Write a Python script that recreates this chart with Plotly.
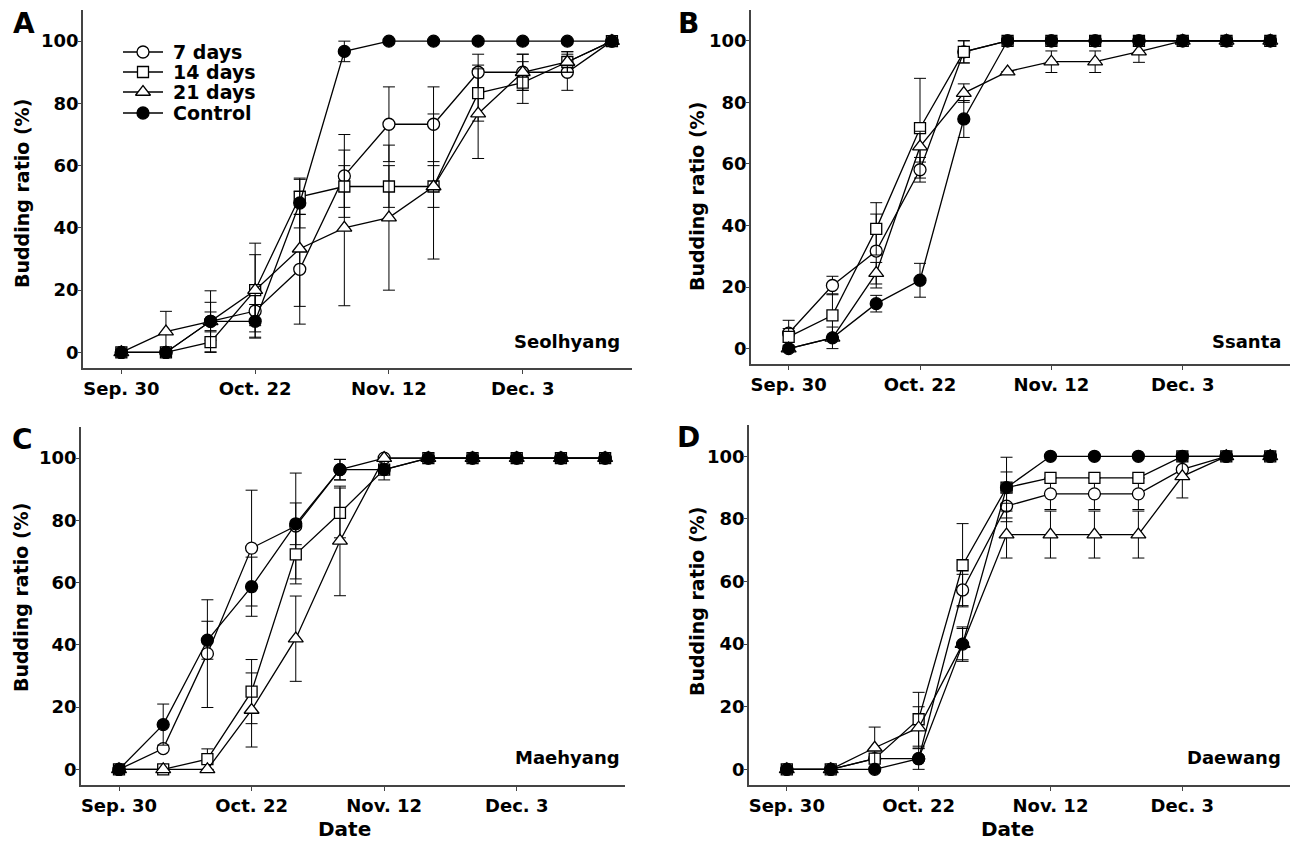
import plotly.graph_objects as go

W, H = 1292, 841

# ---------------- data ----------------
x_idx = list(range(12))  # weekly observations
tick_pos = [0, 3, 6, 9]
tick_labels = ["Sep. 30", "Oct. 22", "Nov. 12", "Dec. 3"]
y_ticks = [0, 20, 40, 60, 80, 100]
series_names = ["7 days", "14 days", "21 days", "Control"]

# A - Seolhyang
seol_7 = [0, 0, 10, 13.3, 26.7, 56.7, 73.3, 73.3, 90, 90, 90, 100]
seol_7_err = [None, None, 6.1, 6.7, 17.6, 13.3, 12, 12, 5.8, 5.8, 5.8, None]
seol_14 = [0, 0, 3.3, 20, 50, 53.3, 53.3, 53.3, 83.3, 86.7, 93.3, 100]
seol_14_err = [None, None, 3.3, 11.4, 5.6, 6.7, 6.7, 6.7, 9, 6.7, 3.3, None]
seol_21 = [0, 6.7, 10, 20, 33.3, 40, 43.3, 53.3, 76.7, 90, 93.3, 100]
seol_21_err = [None, 6.5, 9.8, 15.1, 18.5, 25, 23.3, 23.3, 14.4, 5.8, 3.3, None]
seol_ctrl = [0, 0, 10, 10, 48, 96.7, 100, 100, 100, 100, 100, 100]
seol_ctrl_err = [None, None, 3, 5.4, 8, 3.3, None, None, None, None, None, None]

# B - Ssanta
ssan_7 = [5, 20.5, 31.7, 58.1, 96.4, 100, 100, 100, 100, 100, 100, 100]
ssan_7_err = [4.2, 3, 12, 4, 3.6, None, None, None, None, None, None, None]
ssan_14 = [3.8, 10.8, 38.9, 71.6, 96.4, 100, 100, 100, 100, 100, 100, 100]
ssan_14_err = [2.7, 7, 8.5, 16.2, 3.6, None, None, None, None, None, None, None]
ssan_21 = [0, 3.5, 24.5, 65.6, 83, 90, 93.2, 93.2, 96.5, 100, 100, 100]
ssan_21_err = [None, None, 3.5, 5, 3, None, 3.5, 3.5, 3.5, None, None, None]
ssan_ctrl = [0, 3.5, 14.6, 22.2, 74.6, 100, 100, 100, 100, 100, 100, 100]
ssan_ctrl_err = [None, 3.5, 2.7, 5.5, 6, None, None, None, None, None, None, None]

# C - Maehyang
maeh_7 = [0, 6.7, 37.2, 71.1, 78.2, 96.3, 100, 100, 100, 100, 100, 100]
maeh_7_err = [None, None, 17.3, 18.6, 17, 3.3, None, None, None, None, None, None]
maeh_14 = [0, 0, 3.3, 25, 69.1, 82.4, 96.3, 100, 100, 100, 100, 100]
maeh_14_err = [None, None, 3.3, 10.3, 9.5, 8, 3.3, None, None, None, None, None]
maeh_21 = [0, 0, 0, 19.1, 42, 73.4, 100, 100, 100, 100, 100, 100]
maeh_21_err = [None, None, None, 11.9, 13.7, 17.6, None, None, None, None, None, None]
maeh_ctrl = [0, 14.4, 41.5, 58.7, 78.9, 96.3, 96.3, 100, 100, 100, 100, 100]
maeh_ctrl_err = [None, 6.6, 6.1, 9.5, 6.7, 3.3, None, None, None, None, None, None]

# D - Daewang
daew_7 = [0, 0, 3.4, 3.4, 57.3, 84.1, 88, 88, 88, 95.8, 100, 100]
daew_7_err = [None, None, None, None, 5, 5, 5, 5, 5, None, None, None]
daew_14 = [0, 0, 3.4, 16, 65.2, 90, 93.1, 93.1, 93.1, 100, 100, 100]
daew_14_err = [None, None, None, 8.6, 13.3, 5, None, None, None, None, None, None]
daew_21 = [0, 0, 6.9, 13.3, 40, 75, 75, 75, 75, 93.6, 100, 100]
daew_21_err = [None, None, 6.6, 6.7, 5, 7.5, 7.5, 7.5, 7.5, 6.9, None, None]
daew_ctrl = [0, 0, 0, 3.4, 40, 90, 100, 100, 100, 100, 100, 100]
daew_ctrl_err = [None, None, None, 3.4, 5.5, 9.7, None, None, None, None, None, None]

panels = [
    ("A", "Seolhyang", [seol_7, seol_14, seol_21, seol_ctrl],
     [seol_7_err, seol_14_err, seol_21_err, seol_ctrl_err]),
    ("B", "Ssanta", [ssan_7, ssan_14, ssan_21, ssan_ctrl],
     [ssan_7_err, ssan_14_err, ssan_21_err, ssan_ctrl_err]),
    ("C", "Maehyang", [maeh_7, maeh_14, maeh_21, maeh_ctrl],
     [maeh_7_err, maeh_14_err, maeh_21_err, maeh_ctrl_err]),
    ("D", "Daewang", [daew_7, daew_14, daew_21, daew_ctrl],
     [daew_7_err, daew_14_err, daew_21_err, daew_ctrl_err]),
]

# ---------------- styles / layout constants ----------------
FONT = "DejaVu Sans"
styles = [
    dict(symbol="circle", size=12, color="white"),
    dict(symbol="square", size=11, color="white"),
    dict(symbol="triangle-up", size=13, color="white"),
    dict(symbol="circle", size=12, color="black"),
]
# plot-area boxes in pixels: (x0, x1, y0, y1)
boxes = [(83, 632, 10, 368), (751, 1290, 10, 364), (81, 625, 427, 785), (749, 1290, 425, 785)]
letter_pos = [(24, 24), (688, 24), (22, 439), (688, 437)]
ytitle_pos = [(22, 194), (697, 197), (21, 598), (697, 602)]
name_pos = [(622, 341), (1283, 341), (622, 757), (1283, 757)]
date_pos = [(345, 829), (1007, 829)]


def pxp(x, y):
    return x / W, 1 - y / H


fig = go.Figure()
layout = dict(
    width=W, height=H, margin=dict(l=0, r=0, t=0, b=0),
    paper_bgcolor="white", plot_bgcolor="rgba(0,0,0,0)", showlegend=False,
    annotations=[],
)

axis_common = dict(showline=True, linecolor="#444", linewidth=1.5, ticks="outside",
                   ticklen=4, tickcolor="#444", tickwidth=1.2, showgrid=False,
                   zeroline=False, tickfont=dict(family=FONT, size=18, color="black", weight="bold"))

for i, (letter, name, ys, errs) in enumerate(panels):
    n = "" if i == 0 else str(i + 1)
    x0, x1, y0, y1 = boxes[i]
    layout["xaxis" + n] = dict(axis_common, domain=[x0 / W, x1 / W], range=[-0.86, 11.45],
                               tickvals=tick_pos, ticktext=tick_labels,
                               anchor="y" + n)
    layout["yaxis" + n] = dict(axis_common, domain=[1 - y1 / H, 1 - y0 / H], range=[-5, 110],
                               tickvals=y_ticks, anchor="x" + n, ticklen=3,
                               ticklabelstandoff=-4)
    for s in range(4):
        st = styles[s]
        fig.add_trace(go.Scatter(
            x=x_idx, y=ys[s], name=series_names[s], mode="lines+markers",
            xaxis="x" + n, yaxis="y" + n,
            line=dict(color="black", width=1.3),
            marker=dict(symbol=st["symbol"], size=st["size"], color=st["color"],
                        line=dict(color="black", width=1.3)),
            error_y=dict(type="data", array=errs[s], symmetric=True, color="black",
                         thickness=1, width=6),
            cliponaxis=False,
        ))
    lx, ly = pxp(*letter_pos[i])
    layout["annotations"].append(dict(text=letter, x=lx, y=ly, xref="paper", yref="paper",
                                      showarrow=False, xanchor="center", yanchor="middle",
                                      font=dict(family=FONT, size=28, color="black", weight="bold")))
    tx, ty = pxp(*ytitle_pos[i])
    layout["annotations"].append(dict(text="Budding ratio (%)", x=tx, y=ty, xref="paper", yref="paper",
                                      showarrow=False, textangle=-90, xanchor="center", yanchor="middle",
                                      font=dict(family=FONT, size=19, color="black", weight="bold")))
    nx, ny = pxp(*name_pos[i])
    layout["annotations"].append(dict(text=name, x=nx, y=ny, xref="paper", yref="paper",
                                      showarrow=False, xanchor="right", yanchor="middle",
                                      font=dict(family=FONT, size=18, color="black", weight="bold")))

for dx, dy in date_pos:
    ax, ay = pxp(dx, dy)
    layout["annotations"].append(dict(text="Date", x=ax, y=ay, xref="paper", yref="paper",
                                      showarrow=False, xanchor="center", yanchor="middle",
                                      font=dict(family=FONT, size=20, color="black", weight="bold")))

# ---------------- legend (panel A), drawn on a pixel overlay axis ----------------
layout["xaxis9"] = dict(domain=[0, 1], range=[0, W], visible=False, fixedrange=True, anchor="y9")
layout["yaxis9"] = dict(domain=[0, 1], range=[H, 0], visible=False, fixedrange=True, anchor="x9")
leg_line_x = [123, 163]
leg_mark_x = [143]
leg_rows = [52, 72, 92, 113]
for s in range(4):
    st = styles[s]
    ry = leg_rows[s]
    fig.add_trace(go.Scatter(
        x=leg_line_x, y=[ry, ry], mode="lines", xaxis="x9", yaxis="y9",
        line=dict(color="black", width=1.3), hoverinfo="skip",
    ))
    fig.add_trace(go.Scatter(
        x=leg_mark_x, y=[ry], mode="markers", xaxis="x9", yaxis="y9", hoverinfo="skip",
        marker=dict(symbol=st["symbol"], size=st["size"], color=st["color"],
                    line=dict(color="black", width=1.3)),
    ))
    layout["annotations"].append(dict(text=series_names[s], x=171, y=ry, xref="x9", yref="y9",
                                      showarrow=False, xanchor="left", yanchor="middle",
                                      font=dict(family=FONT, size=19, color="black", weight="bold")))

fig.update_layout(**layout)
fig.write_html("out.html", post_script="document.body.style.margin='0px';",
               config={"displayModeBar": False})
